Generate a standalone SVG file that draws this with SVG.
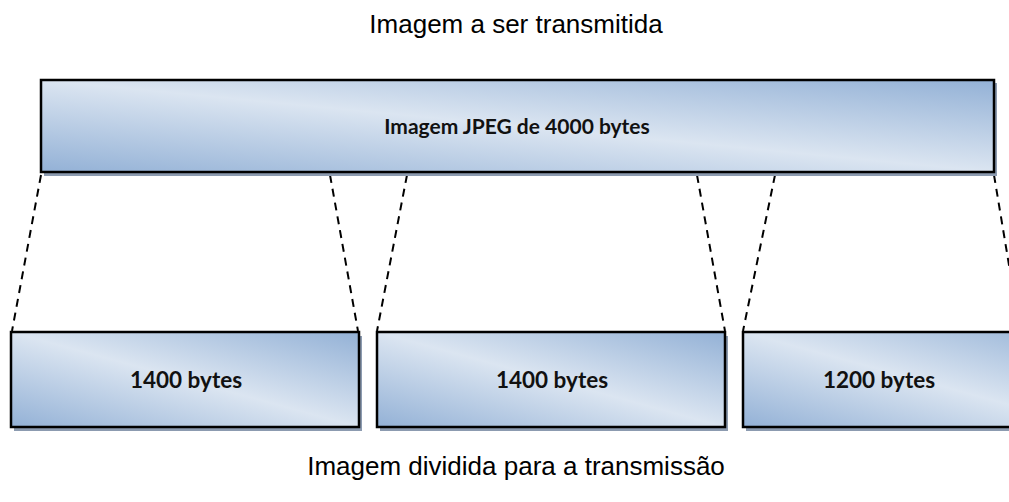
<svg xmlns="http://www.w3.org/2000/svg" width="1009" height="502" viewBox="0 0 1009 502">
<defs>
<linearGradient id="g" x1="0" y1="1" x2="1" y2="0">
<stop offset="0" stop-color="#93b1d6"/>
<stop offset="0.5" stop-color="#dbe5f1"/>
<stop offset="1" stop-color="#93b1d6"/>
</linearGradient>
<style>
.box{fill:url(#g);stroke:#000;stroke-width:2.5}
.sh{fill:#8c9bb0}
.lbl{font-family:Lato,"Liberation Sans",sans-serif;font-weight:bold;font-size:21px;fill:#111;text-anchor:middle}
.lbl2{font-family:Lato,"Liberation Sans",sans-serif;font-weight:bold;font-size:22.5px;fill:#111;text-anchor:middle}
.cap{font-family:"Liberation Sans",Arial,sans-serif;font-size:26px;fill:#000;text-anchor:middle}
.dash{stroke:#000;stroke-width:2;stroke-dasharray:8 6;fill:none}
</style>
</defs>
<rect width="1009" height="502" fill="#fff"/>
<text class="cap" x="516" y="33">Imagem a ser transmitida</text>
<g id="connectors">
<line class="dash" x1="41" y1="175" x2="12" y2="331"/>
<line class="dash" x1="330" y1="175" x2="358" y2="331"/>
<line class="dash" x1="407" y1="175" x2="377" y2="331"/>
<line class="dash" x1="697" y1="175" x2="725" y2="331"/>
<line class="dash" x1="775" y1="175" x2="743" y2="331"/>
<line class="dash" x1="994" y1="175" x2="1020" y2="331"/>
</g>
<g id="image">
<rect class="sh" x="44" y="83" width="953" height="93"/>
<rect class="box" x="41" y="80" width="953" height="92"/>
<text class="lbl" x="517" y="134">Imagem JPEG de 4000 bytes</text>
</g>
<g id="part1">
<rect class="sh" x="14" y="336" width="348" height="95"/>
<rect class="box" x="11" y="332" width="348" height="95"/>
<text class="lbl2" x="186" y="388">1400 bytes</text>
</g>
<g id="part2">
<rect class="sh" x="380" y="336" width="348" height="95"/>
<rect class="box" x="377" y="332" width="348" height="95"/>
<text class="lbl2" x="552" y="388">1400 bytes</text>
</g>
<g id="part3">
<rect class="sh" x="746" y="336" width="348" height="95"/>
<rect class="box" x="743" y="332" width="348" height="95"/>
<text class="lbl2" x="879" y="388">1200 bytes</text>
</g>
<text class="cap" x="516" y="475">Imagem dividida para a transmissão</text>
</svg>
